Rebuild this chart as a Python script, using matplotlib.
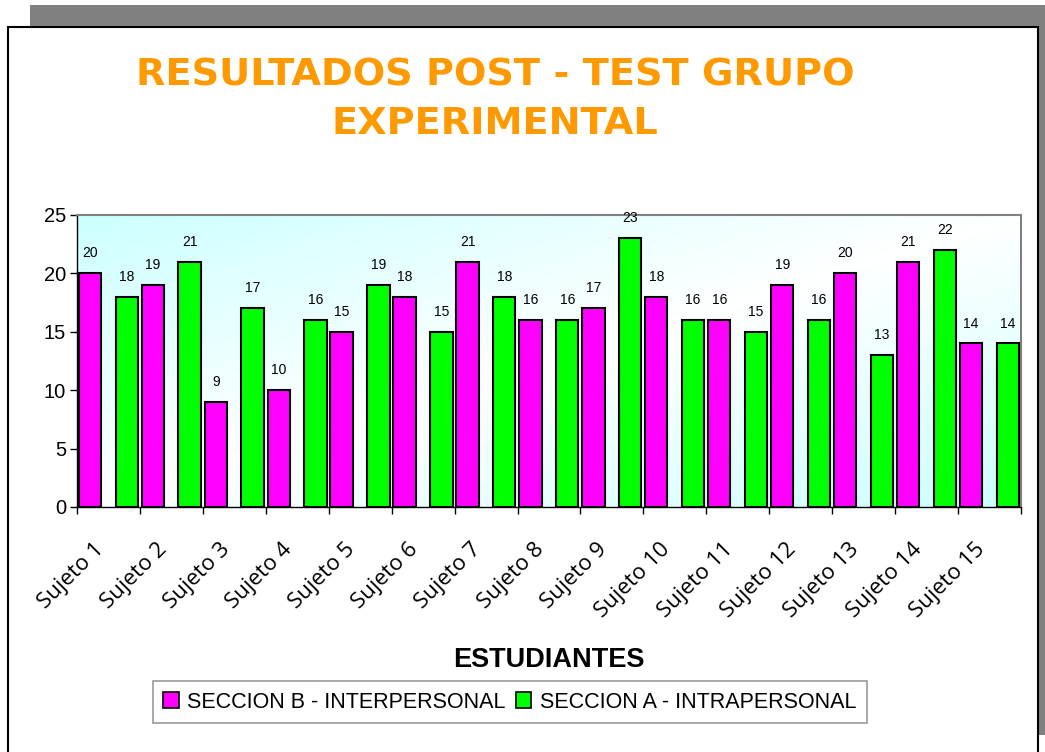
import numpy as np
import matplotlib
matplotlib.use("Agg")
import matplotlib.pyplot as plt
from matplotlib.patches import Rectangle
from matplotlib.transforms import ScaledTranslation

# Data
subjects = [f"Sujeto {i}" for i in range(1, 16)]
seccion_b = [20, 19, 9, 10, 15, 18, 21, 16, 17, 18, 16, 19, 20, 21, 14]
seccion_a = [18, 21, 17, 16, 19, 15, 18, 16, 23, 16, 15, 16, 13, 22, 14]
series_names = ["SECCION B - INTERPERSONAL", "SECCION A - INTRAPERSONAL"]
y_ticks = [0, 5, 10, 15, 20, 25]

MAGENTA = "#FF00FF"
GREEN = "#00FF00"
ORANGE = "#FF9900"

W, H = 1045, 752
fig = plt.figure(figsize=(W / 100, H / 100), dpi=100)

# Chart frame with offset shadow, drawn in pixel space
bg = fig.add_axes([0, 0, 1, 1], zorder=0)
bg.set_xlim(0, W)
bg.set_ylim(H, 0)
bg.axis("off")
bg.add_patch(Rectangle((30, 5), 1100, 730, facecolor="#808080", edgecolor="none"))
bg.add_patch(Rectangle((8, 27), 1030, 800, facecolor="white",
                       edgecolor="black", linewidth=1.5))

# Plot area
ax = fig.add_axes([77 / W, 1 - 507 / H, (1021 - 77) / W, (507 - 215) / H], zorder=1)
ax.patch.set_alpha(0)

n = len(subjects)
x = np.arange(n)

# Diagonal cyan-white-cyan gradient background
gx = np.linspace(0, 1, 400)
gy = np.linspace(0, 1, 200)
GX, GY = np.meshgrid(gx, gy)
a = np.abs(GX + GY - 1)
cyan = np.array([0.80, 1.0, 1.0])
img = 1 - a[..., None] * (1 - cyan)
ax.imshow(img, extent=(0, n, 0, 25), origin="upper", aspect="auto",
          zorder=0, interpolation="bilinear")

bw = 0.355
pos_b = x + 0.205
pos_a = x + 0.79
ax.bar(pos_b, seccion_b, width=bw, color=MAGENTA, edgecolor="black",
       linewidth=1.5, zorder=3)
ax.bar(pos_a, seccion_a, width=bw, color=GREEN, edgecolor="black",
       linewidth=1.5, zorder=3)

for xs, vals in ((pos_b, seccion_b), (pos_a, seccion_a)):
    for xc, v in zip(xs, vals):
        ax.annotate(str(v), (xc, v), xytext=(0, 11.5), textcoords="offset points",
                    ha="center", va="baseline", fontsize=10,
                    family="Liberation Sans", color="black", zorder=4)

ax.set_xlim(0, n)
ax.set_ylim(0, 25)

# Axes styling
ax.spines["left"].set_color("black")
ax.spines["bottom"].set_color("black")
ax.spines["left"].set_linewidth(1)
ax.spines["bottom"].set_linewidth(1)
for s in ("top", "right"):
    ax.spines[s].set_color("#808080")
    ax.spines[s].set_linewidth(1.5)

ax.set_yticks(y_ticks)
ax.set_yticklabels([str(t) for t in y_ticks], family="Liberation Sans", fontsize=14.5)
ax.tick_params(axis="y", direction="out", length=5, width=1, pad=3, color="black")

ax.set_xticks(np.arange(n + 1))
ax.set_xticklabels([])
ax.tick_params(axis="x", which="major", direction="out", length=5, width=1, color="black")
ax.set_xticks(x + 0.5, minor=True)
ax.set_xticklabels(subjects, minor=True, rotation=45, ha="right", va="center",
                   rotation_mode="anchor", fontsize=16, family="Open Sans")
ax.tick_params(axis="x", which="minor", length=0, pad=28)
shift = ScaledTranslation(-8 / 100, 0, fig.dpi_scale_trans)
for lbl in ax.get_xticklabels(minor=True):
    lbl.set_transform(lbl.get_transform() + shift)

# Titles
fig.text(495 / W, 1 - 75.5 / H, "RESULTADOS POST - TEST GRUPO", ha="center",
         va="center", fontsize=27.5, weight="bold", color=ORANGE, family="DejaVu Sans")
fig.text(495 / W, 1 - 124.5 / H, "EXPERIMENTAL", ha="center",
         va="center", fontsize=27.5, weight="bold", color=ORANGE, family="DejaVu Sans")
fig.text(549 / W, 1 - 660 / H, "ESTUDIANTES", ha="center", va="center",
         fontsize=19.5, weight="bold", family="Liberation Sans")

# Legend
handles = [Rectangle((0, 0), 1, 1, facecolor=MAGENTA, edgecolor="black", linewidth=1.2),
           Rectangle((0, 0), 1, 1, facecolor=GREEN, edgecolor="black", linewidth=1.2)]
leg = fig.legend(handles, series_names, loc="center",
                 bbox_to_anchor=(510 / W, 1 - 702 / H), ncol=2, frameon=True,
                 fancybox=False, shadow=False, edgecolor="#808080",
                 prop={"family": "Liberation Sans", "size": 15.5},
                 handlelength=0.7, handleheight=0.7, handletextpad=0.4,
                 columnspacing=0.5, borderpad=0.5, borderaxespad=0)
leg.get_frame().set_linewidth(1.2)

fig.savefig("out.png", dpi=100)
